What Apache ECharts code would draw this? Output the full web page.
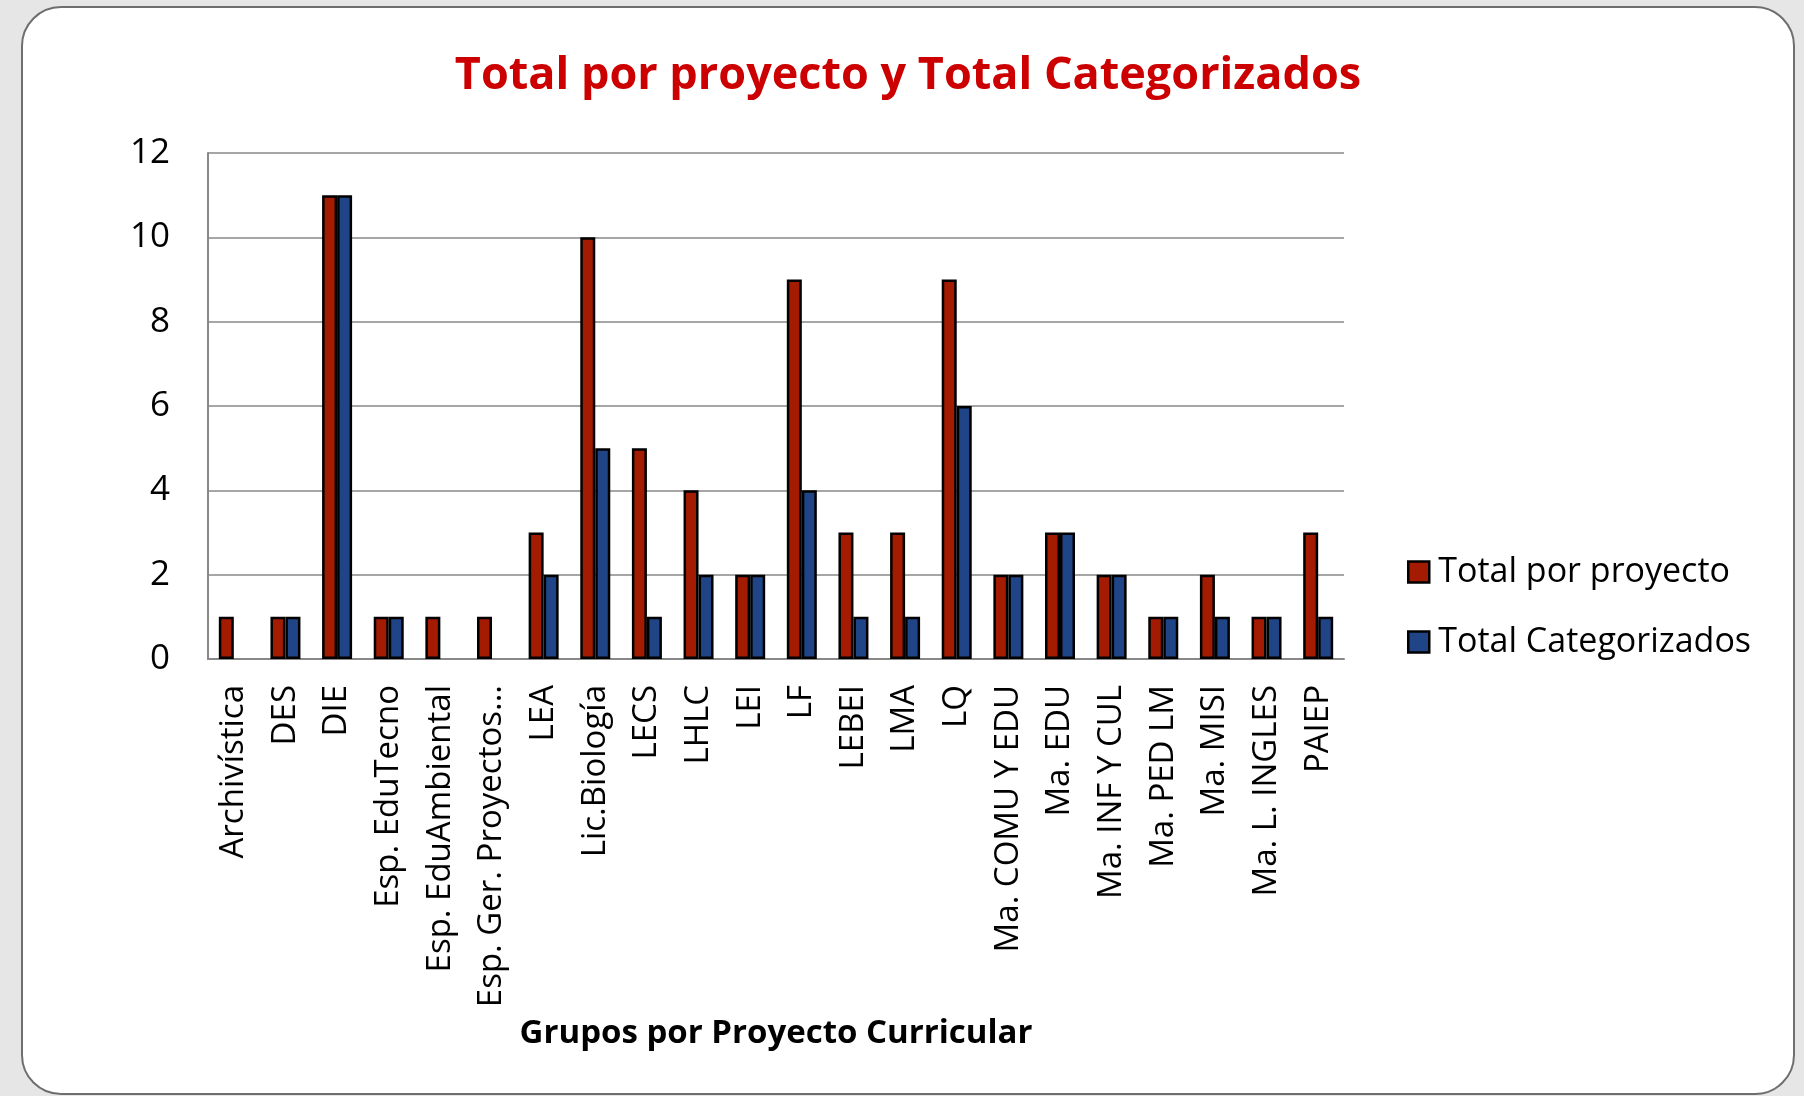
<!DOCTYPE html>
<html>
<head>
<meta charset="utf-8">
<title>Total por proyecto y Total Categorizados</title>
<script src="https://cdn.jsdelivr.net/npm/echarts@6/dist/echarts.min.js"></script>
<style>
  html, body { margin: 0; padding: 0; }
  body {
    width: 1804px;
    height: 1096px;
    overflow: hidden;
    background: #e6e6e6;
    position: relative;
  }
  #card {
    position: absolute;
    left: 21px;
    top: 6px;
    width: 1774px;
    height: 1089px;
    box-sizing: border-box;
    border: 2px solid #6e6e6e;
    border-radius: 40px;
    background: #fff;
  }
  #chart {
    position: absolute;
    left: 23px;
    top: 8px;
    width: 1770px;
    height: 1085px;
  }
</style>
</head>
<body>
<div id="card"></div>
<div id="chart"></div>
<script>
  // categorias (proyectos curriculares)
  const categories = [
    'Archivística', 'DES', 'DIE', 'Esp. EduTecno', 'Esp. EduAmbiental',
    'Esp. Ger. Proyectos...', 'LEA', 'Lic.Biología', 'LECS', 'LHLC', 'LEI',
    'LF', 'LEBEI', 'LMA', 'LQ', 'Ma. COMU Y EDU', 'Ma. EDU', 'Ma. INF Y CUL',
    'Ma. PED LM', 'Ma. MISI', 'Ma. L. INGLES', 'PAIEP'
  ]
  const totalPorProyecto = [1, 1, 11, 1, 1, 1, 3, 10, 5, 4, 2, 9, 3, 3, 9, 2, 3, 2, 1, 2, 1, 3]
  // sin barra azul donde no hay dato
  const totalCategorizados = [null, 1, 11, 1, null, null, 2, 5, 1, 2, 2, 4, 1, 1, 6, 2, 3, 2, 1, 1, 1, 1]
  const yTicks = [0, 2, 4, 6, 8, 10, 12]

  const font = '"Open Sans", "Noto Sans", sans-serif'

  let myChart = echarts.init(document.getElementById('chart'))
  let option = {
    animation: false,
    textStyle: { fontFamily: font },
    title: {
      text: 'Total por proyecto y Total Categorizados',
      left: 'center',
      top: 35,
      textStyle: {
        fontFamily: font,
        fontSize: 45,
        fontWeight: 'bold',
        color: '#cc0000',
        lineHeight: 56
      }
    },
    legend: {
      orient: 'vertical',
      left: 1379,
      top: 539,
      itemWidth: 21,
      itemHeight: 21,
      itemGap: 30,
      icon: 'rect',
      itemStyle: { borderColor: '#000', borderWidth: 2.5 },
      textStyle: {
        fontFamily: font,
        fontSize: 34,
        color: '#000',
        lineHeight: 40,
        padding: [0, 0, 0, 4]
      },
      data: ['Total por proyecto', 'Total Categorizados']
    },
    grid: {
      left: 185,
      right: 449,
      top: 145,
      bottom: 434,
      containLabel: false,
      outerBoundsMode: 'none'
    },
    xAxis: {
      type: 'category',
      data: categories,
      name: 'Grupos por Proyecto Curricular',
      nameLocation: 'middle',
      nameGap: 358,
      nameMoveOverlap: false,
      nameTextStyle: {
        fontFamily: font,
        fontSize: 33,
        fontWeight: 'bold',
        color: '#000'
      },
      axisLine: { lineStyle: { color: '#888', width: 2 } },
      axisTick: { show: false },
      axisLabel: {
        interval: 0,
        rotate: 90,
        margin: 26,
        fontFamily: font,
        fontSize: 33,
        color: '#000'
      }
    },
    yAxis: {
      type: 'value',
      min: yTicks[0],
      max: yTicks[yTicks.length - 1],
      interval: 2,
      axisLine: { show: true, lineStyle: { color: '#888', width: 2 } },
      axisTick: { show: false },
      axisLabel: {
        margin: 38,
        fontFamily: font,
        fontSize: 35,
        color: '#000'
      },
      splitLine: { lineStyle: { color: '#a6a6a6', width: 2 } }
    },
    series: [
      {
        name: 'Total por proyecto',
        type: 'bar',
        data: totalPorProyecto,
        barWidth: 15,
        barGap: '0%',
        itemStyle: { color: '#a31b00', borderColor: '#000', borderWidth: 2.5 }
      },
      {
        name: 'Total Categorizados',
        type: 'bar',
        data: totalCategorizados,
        barWidth: 15,
        barGap: '0%',
        itemStyle: { color: '#1f4587', borderColor: '#000', borderWidth: 2.5 }
      }
    ]
  }
  myChart.setOption(option)
</script>
</body>
</html>
